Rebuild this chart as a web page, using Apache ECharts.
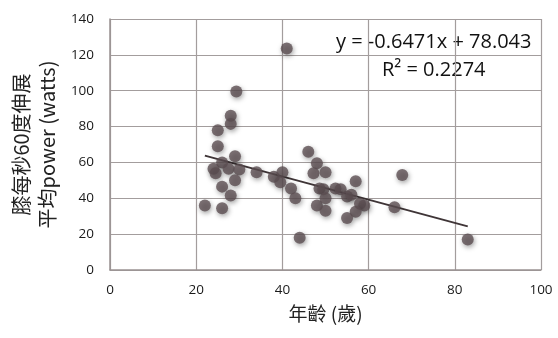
<!DOCTYPE html>
<html><head><meta charset="utf-8">
<script src="https://cdn.jsdelivr.net/npm/echarts@6/dist/echarts.min.js"></script>
<style>html,body{margin:0;padding:0;background:#fff}#c{width:558px;height:338px}</style>
</head><body><div id="c"></div>
<script>
var ages  = [41, 29.3, 28, 28, 25, 25, 29, 26, 24, 24.5, 27.5, 30, 34, 29, 26, 28, 22, 26, 38, 40, 39.5, 42, 43, 44, 46, 48, 47.2, 50, 48.6, 49.5, 48, 50, 50, 52.3, 53.5, 55, 56, 57, 58, 59, 57, 55, 66, 67.8, 83];
var power = [123.5, 99.5, 86, 81.5, 78, 69, 63.5, 60, 56.5, 54, 56.5, 56, 54.5, 50, 46.5, 41.5, 36, 34.5, 52, 54.5, 49, 45.5, 40, 18, 66, 59.5, 54, 54.5, 45.5, 45, 36, 40, 33, 45.5, 45, 41, 42, 49.5, 37, 36, 32.5, 29, 35, 53, 17];
var slope = -0.6471, intercept = 78.043;
var trendX = [22, 83];
var eqText = 'y = -0.6471x + 78.043';
var r2Text = 'R² = 0.2274';
var xName = '年齡 (歲)';
var yName = '膝每秒60度伸展\n平均power (watts)';

var pts = ages.map(function(a,i){return [a, power[i]];});
var trend = trendX.map(function(x){return [x, slope*x+intercept];});
var chart = echarts.init(document.getElementById('c'));
var cjk = '"Noto Sans CJK TC", "Noto Sans", sans-serif';
chart.setOption({
  animation:false,
  grid:{left:107,right:17,top:19,bottom:68},
  xAxis:{type:'value',min:0,max:100,interval:20,
    name:xName,nameLocation:'middle',nameGap:34,
    nameTextStyle:{fontSize:19,color:'#222',fontFamily:cjk},
    axisLine:{show:true,lineStyle:{color:'#9a9393',width:1.5}},
    axisTick:{show:false},
    axisLabel:{fontSize:13.5,color:'#1a1a1a',margin:13,fontFamily:'"Open Sans", sans-serif'},
    splitLine:{show:true,lineStyle:{color:'#a39d9d',width:1.2}}},
  yAxis:{type:'value',min:0,max:140,interval:20,
    name:yName,nameLocation:'middle',nameGap:44,nameRotate:90,
    nameTextStyle:{fontSize:20,color:'#222',fontFamily:cjk,lineHeight:26},
    axisLine:{show:true,lineStyle:{color:'#9a9393',width:1.5}},
    axisTick:{show:false},
    axisLabel:{fontSize:13.5,color:'#1a1a1a',margin:16,fontFamily:'"Open Sans", sans-serif'},
    splitLine:{show:true,lineStyle:{color:'#a39d9d',width:1.2}}},
  series:[
    {type:'line',data:trend,symbol:'none',lineStyle:{color:'#3f3537',width:2},z:3},
    {type:'scatter',data:pts,symbolSize:12,z:4,
     itemStyle:{color:'#5c4f53',shadowBlur:5,shadowOffsetX:1,shadowOffsetY:2,shadowColor:'rgba(0,0,0,0.45)'}}
  ],
  graphic:[
    {type:'text',left:336,top:32,style:{text:eqText,fontSize:20,fill:'#111',fontFamily:'"Open Sans", sans-serif'}},
    {type:'text',left:382,top:60,style:{text:r2Text,fontSize:20,fill:'#111',fontFamily:'"Open Sans", sans-serif'}}
  ]
});
</script></body></html>
